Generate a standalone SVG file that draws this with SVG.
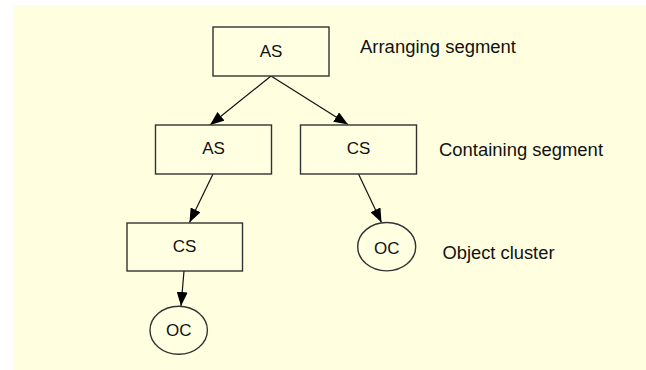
<svg xmlns="http://www.w3.org/2000/svg" width="646" height="370" viewBox="0 0 646 370">
  <style>
    .box { fill: #FFFFE1; stroke: #333; stroke-width: 1.4; }
    .conn { fill: none; stroke: #111; stroke-width: 1.2; }
    .t { font-family: "Liberation Sans", Arial, sans-serif; font-size: 17px; fill: #111; text-anchor: middle; }
    .lbl { font-family: "Liberation Sans", Arial, sans-serif; font-size: 17.5px; fill: #111; }
  </style>
  <defs>
    <marker id="arrow" viewBox="0 0 14 11" refX="14" refY="5.5" markerWidth="14" markerHeight="11" markerUnits="userSpaceOnUse" orient="auto">
      <path d="M0,0 L14,5.5 L0,11 Z" fill="#000"/>
    </marker>
  </defs>

  <!-- page background -->
  <rect x="13" y="5" width="633" height="365" fill="#FFFFE0"/>

  <!-- connectors -->
  <g id="connectors">
    <line class="conn" x1="271" y1="76" x2="210" y2="125" marker-end="url(#arrow)"/>
    <line class="conn" x1="271" y1="76" x2="348" y2="124.5" marker-end="url(#arrow)"/>
    <line class="conn" x1="213" y1="174" x2="189.5" y2="222.5" marker-end="url(#arrow)"/>
    <line class="conn" x1="358.5" y1="174" x2="381.5" y2="222.5" marker-end="url(#arrow)"/>
    <line class="conn" x1="184" y1="271" x2="181" y2="306" marker-end="url(#arrow)"/>
  </g>

  <!-- nodes -->
  <g id="as-top">
    <rect class="box" x="213" y="27" width="116" height="49"/>
    <text class="t" x="271" y="56.5">AS</text>
  </g>
  <g id="as-mid">
    <rect class="box" x="155.5" y="125" width="116" height="49"/>
    <text class="t" x="213.5" y="154">AS</text>
  </g>
  <g id="cs-mid">
    <rect class="box" x="300.5" y="125" width="116" height="49"/>
    <text class="t" x="358.5" y="154">CS</text>
  </g>
  <g id="cs-low">
    <rect class="box" x="127" y="223" width="115.5" height="48"/>
    <text class="t" x="184.5" y="252">CS</text>
  </g>
  <g id="oc-right">
    <ellipse class="box" cx="386.7" cy="246.7" rx="29" ry="24.2"/>
    <text class="t" x="386.7" y="254">OC</text>
  </g>
  <g id="oc-low">
    <ellipse class="box" cx="178.7" cy="330.2" rx="28.7" ry="24"/>
    <text class="t" x="178.7" y="335.5">OC</text>
  </g>

  <!-- level captions -->
  <g id="captions">
    <text class="lbl" x="360" y="52.5" textLength="156" lengthAdjust="spacingAndGlyphs">Arranging segment</text>
    <text class="lbl" x="439" y="156" textLength="164" lengthAdjust="spacingAndGlyphs">Containing segment</text>
    <text class="lbl" x="442.5" y="258.5" textLength="112" lengthAdjust="spacingAndGlyphs">Object cluster</text>
  </g>
</svg>
